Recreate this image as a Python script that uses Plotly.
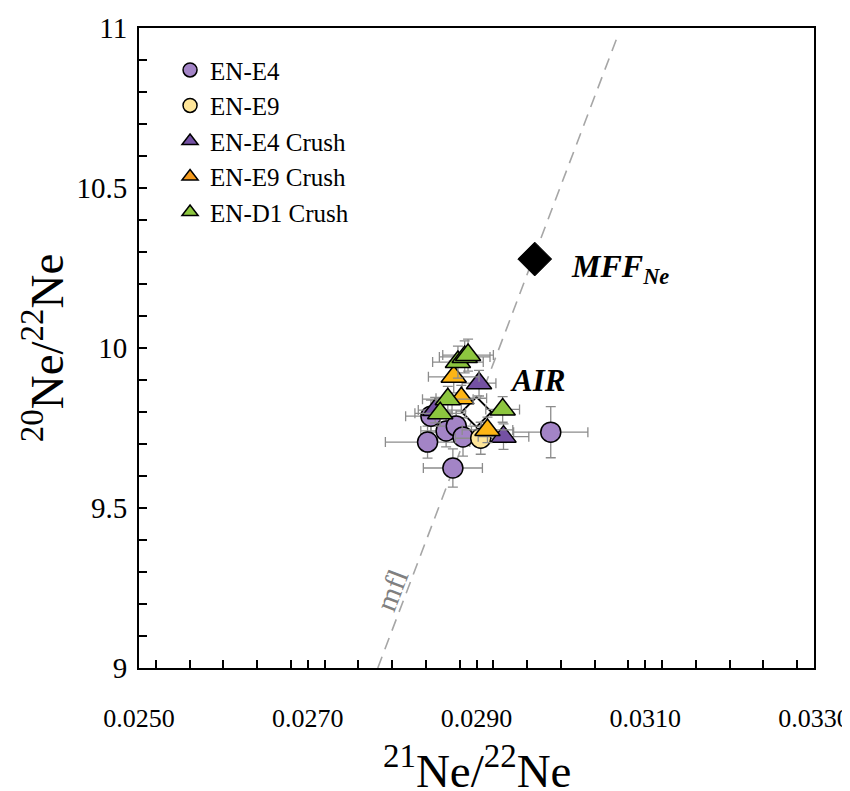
import plotly.graph_objects as go

# ---------------- data ----------------
e4_x  = [0.02846, 0.02842, 0.02872, 0.02864, 0.02876, 0.02884, 0.02988]
e4_y  = [9.787, 9.706, 9.625, 9.741, 9.756, 9.722, 9.737]
e4_ex = [0.00030, 0.00050, 0.00035, 0.00030, 0.00030, 0.00030, 0.00044]
e4_ey = [0.05, 0.05, 0.06, 0.05, 0.05, 0.06, 0.08]

e9_x  = [0.02905]
e9_y  = [9.718]
e9_ex = [0.00030]
e9_ey = [0.05]

e4c_x  = [0.02851, 0.02903, 0.02932]
e4c_y  = [9.806, 9.890, 9.723]
e4c_ex = [0.00020, 0.00020, 0.00030]
e4c_ey = [0.04, 0.04, 0.04]

e9c_x  = [0.02873, 0.02882, 0.02913]
e9c_y  = [9.910, 9.843, 9.744]
e9c_ex = [0.00030, 0.00030, 0.00030]
e9c_ey = [0.05, 0.04, 0.04]

d1c_x  = [0.02878, 0.02886, 0.02890, 0.02866, 0.02857, 0.02931]
d1c_y  = [9.956, 9.972, 9.978, 9.840, 9.796, 9.808]
d1c_ex = [0.00030, 0.00030, 0.00030, 0.00030, 0.00030, 0.00020]
d1c_ey = [0.05, 0.05, 0.05, 0.04, 0.04, 0.04]

air_x, air_y = [0.0290], [9.80]
mff_x, mff_y = [0.02969], [10.278]

mfl_x = [0.02783, 0.03068]
mfl_y = [9.0, 10.98]

series_names = ["EN-E4", "EN-E9", "EN-E4 Crush", "EN-E9 Crush", "EN-D1 Crush"]

# ---------------- style ----------------
FONT = "Liberation Serif"
ERR = "#8c8c8c"
C_E4 = "#A384C6"
C_E9 = "#FFE699"
C_E4C = "#7451A3"
C_E9C = "#FDB515"
C_D1C = "#8DC63F"

fig = go.Figure()

# mass fractionation line
fig.add_trace(go.Scatter(x=mfl_x, y=mfl_y, mode="lines",
                         line=dict(color="#a6a6a6", width=1.6, dash="12px,8px"),
                         showlegend=False, hoverinfo="skip"))

# AIR and MFF
fig.add_trace(go.Scatter(x=air_x, y=air_y, mode="markers", showlegend=False,
                         marker=dict(symbol="diamond", size=23, color="white",
                                     line=dict(color="black", width=1.8))))
fig.add_trace(go.Scatter(x=mff_x, y=mff_y, mode="markers", showlegend=False,
                         marker=dict(symbol="diamond", size=26, color="black",
                                     line=dict(color="black", width=1))))

def add_series(x, y, ex, ey, sym, col, size):
    fig.add_trace(go.Scatter(
        x=x, y=y, mode="markers", showlegend=False,
        marker=dict(symbol=sym, size=size, color=col, line=dict(color="black", width=1.5)),
        error_x=dict(type="data", array=ex, color=ERR, thickness=1.3, width=5),
        error_y=dict(type="data", array=ey, color=ERR, thickness=1.3, width=5)))

add_series(e4_x, e4_y, e4_ex, e4_ey, "circle", C_E4, 20)
add_series(e9_x, e9_y, e9_ex, e9_ey, "circle", C_E9, 20)
add_series(e4c_x, e4c_y, e4c_ex, e4c_ey, "triangle-up", C_E4C, 22)
add_series(e9c_x, e9c_y, e9c_ex, e9c_ey, "triangle-up", C_E9C, 22)
add_series(d1c_x, d1c_y, d1c_ex, d1c_ey, "triangle-up", C_D1C, 22)

# legend-only entries
leg_syms = ["circle", "circle", "triangle-up", "triangle-up", "triangle-up"]
leg_cols = [C_E4, C_E9, C_E4C, "#F39A1E", C_D1C]
for nm, s, c in zip(series_names, leg_syms, leg_cols):
    fig.add_trace(go.Scatter(x=[None], y=[None], mode="markers", name=nm,
                             legendgroup=nm,
                             marker=dict(symbol=s, size=14, color=c,
                                         line=dict(color="black", width=1.5))))

axis_common = dict(showline=True, linecolor="black", linewidth=2, mirror=True,
                   ticks="inside", ticklen=8, tickwidth=1.5, tickcolor="black",
                   showgrid=False, zeroline=False, ticklabeloverflow="allow")

fig.update_xaxes(range=[0.025, 0.033], dtick=0.002, tick0=0.025, tickformat=".4f",
                 ticklabelstandoff=26,
                 tickfont=dict(family=FONT, size=26, color="black"),
                 minor=dict(dtick=0.0004, ticks="inside", ticklen=8, tickwidth=1.5,
                            tickcolor="black", showgrid=False),
                 **axis_common)
fig.update_yaxes(range=[9, 11], dtick=0.5, tick0=9,
                 ticklabelstandoff=4,
                 tickfont=dict(family=FONT, size=29, color="black"),
                 minor=dict(dtick=0.1, ticks="inside", ticklen=8, tickwidth=1.5,
                            tickcolor="black", showgrid=False),
                 **axis_common)

# page body has an 8px margin: figure is 842x783 so the plot sits where the reference's does
fig.update_layout(
    width=842, height=783,
    margin=dict(l=131, r=36, t=20, b=123, autoexpand=False),
    paper_bgcolor="white", plot_bgcolor="white",
    font=dict(family=FONT, color="black"),
    legend=dict(x=0.046, y=0.97, xanchor="left", yanchor="top",
                bgcolor="rgba(0,0,0,0)", font=dict(family=FONT, size=25),
                tracegroupgap=0, itemwidth=30),
    annotations=[
        dict(text="<sup>21</sup>Ne/<sup>22</sup>Ne", xref="paper", yref="paper",
             x=0.5, y=-0.156, xanchor="center", yanchor="middle", showarrow=False,
             font=dict(family=FONT, size=47)),
        dict(text="<sup>20</sup>Ne/<sup>22</sup>Ne", xref="paper", yref="paper",
             x=-0.142, y=0.5, xanchor="center", yanchor="middle", showarrow=False,
             textangle=-90, font=dict(family=FONT, size=47)),
        dict(text="<b><i>AIR</i></b>", x=0.02972, y=9.897, xref="x", yref="y",
             showarrow=False, xanchor="center", yanchor="middle",
             font=dict(family=FONT, size=31)),
        dict(text="<b><i>MFF<sub>Ne</sub></i></b>", x=0.03010, y=10.25, xref="x", yref="y",
             showarrow=False, xanchor="left", yanchor="middle",
             font=dict(family=FONT, size=32)),
        dict(text="mfl", x=0.02800, y=9.244, xref="x", yref="y",
             showarrow=False, textangle=-69, xanchor="center", yanchor="middle",
             font=dict(family=FONT, size=30, color="#808080")),
    ],
)

fig.write_html("out.html")
